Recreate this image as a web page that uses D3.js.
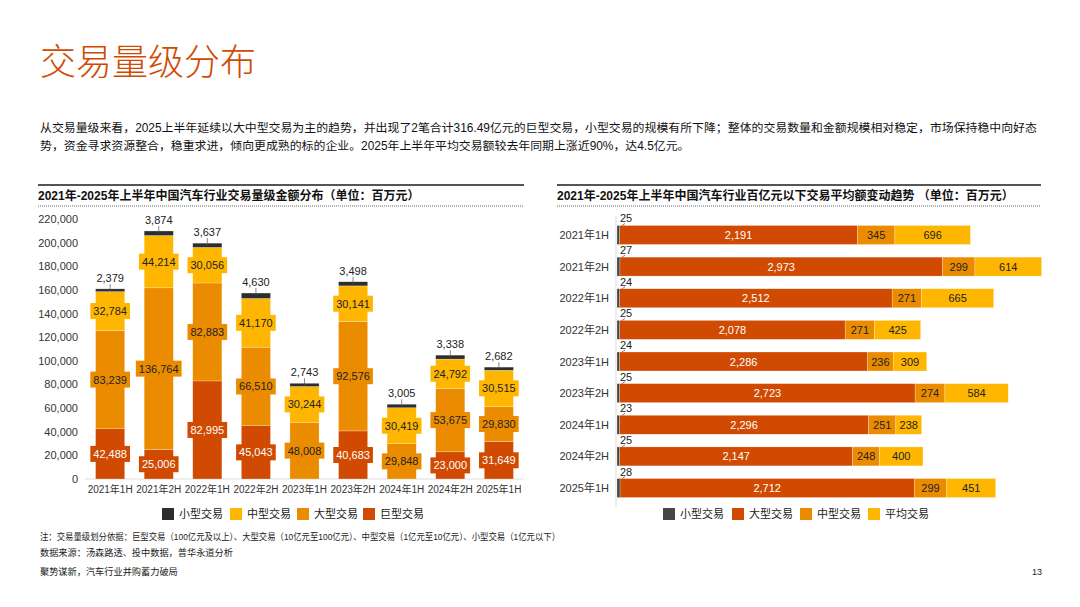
<!DOCTYPE html>
<html>
<head>
<meta charset="utf-8">
<script src="https://cdn.jsdelivr.net/npm/d3@7"></script>
<style>
  body { margin: 0; background: #fff; }
  svg { display: block; font-family: "Liberation Sans", Arial, "Noto Sans CJK SC", sans-serif; }
</style>
</head>
<body>
<svg id="page"></svg>
<script>
// left chart: deal size amounts (百万元)
var periods = ["2021年1H", "2021年2H", "2022年1H", "2022年2H", "2023年1H", "2023年2H", "2024年1H", "2024年2H", "2025年1H"];
var mega = [42488, 25006, 82995, 45043, 0, 40683, 0, 23000, 31649];
var large = [83239, 136764, 82883, 66510, 48008, 92576, 29848, 53675, 29830];
var medium = [32784, 44214, 30056, 41170, 30244, 30141, 30419, 24792, 30515];
var small = [2379, 3874, 3637, 4630, 2743, 3498, 3005, 3338, 2682];
var leftTicks = [0, 20000, 40000, 60000, 80000, 100000, 120000, 140000, 160000, 180000, 200000, 220000];

// right chart: average deal amounts (百万元)
var avgSmall = [25, 27, 24, 25, 24, 25, 23, 25, 28];
var avgLarge = [2191, 2973, 2512, 2078, 2286, 2723, 2296, 2147, 2712];
var avgMedium = [345, 299, 271, 271, 236, 274, 251, 248, 299];
var avgAll = [696, 614, 665, 425, 309, 584, 238, 400, 451];

var RED = "#d04a02", ORANGE = "#eb8c00", YELLOW = "#ffb600", DARK = "#2d2d2d";

var width = 1080, height = 607;
var svg = d3.select("#page").attr("width", width).attr("height", height);
var fmt = d3.format(",");

// page title and intro
svg.append("text").attr("x", 40).attr("y", 75)
    .attr("font-size", 36).attr("font-weight", 300).attr("fill", RED)
    .attr("font-family", "Noto Sans CJK SC")
    .text("交易量级分布");

var intro = [
    "从交易量级来看，2025上半年延续以大中型交易为主的趋势，并出现了2笔合计316.49亿元的巨型交易，小型交易的规模有所下降；整体的交易数量和金额规模相对稳定，市场保持稳中向好态",
    "势，资金寻求资源整合，稳重求进，倾向更成熟的标的企业。2025年上半年平均交易额较去年同期上涨近90%，达4.5亿元。"
];
svg.selectAll(".intro").data(intro).enter().append("text")
    .attr("class", "intro")
    .attr("x", 40).attr("y", function(d, i) { return 132 + i * 18; })
    .attr("font-size", 11.9).attr("fill", "#111")
    .text(function(d) { return d; });

function header(x1, x2, label) {
    svg.append("line").attr("x1", x1).attr("x2", x2).attr("y1", 185).attr("y2", 185)
        .attr("stroke", "#555").attr("stroke-width", 2);
    svg.append("text").attr("x", x1).attr("y", 200)
        .attr("font-size", 12).attr("font-weight", "bold").attr("fill", "#111")
        .text(label);
    svg.append("line").attr("x1", x1).attr("x2", x2).attr("y1", 206).attr("y2", 206)
        .attr("stroke", "#666").attr("stroke-width", 1).attr("stroke-dasharray", "1,1");
}
header(38, 524, "2021年-2025年上半年中国汽车行业交易量级金额分布（单位：百万元）");
header(557, 1041, "2021年-2025年上半年中国汽车行业百亿元以下交易平均额变动趋势 （单位：百万元）");

// ---------- left: stacked column chart ----------
var x = d3.scaleBand().domain(periods).range([81, 528]).paddingInner(0.4).paddingOuter(0.3);
var y = d3.scaleLinear().domain([0, 220000]).range([479, 219]);

var rows = periods.map(function(p, i) {
    return { period: p, mega: mega[i], large: large[i], medium: medium[i], small: small[i] };
});
var keys = ["mega", "large", "medium", "small"];
var colors = { mega: RED, large: ORANGE, medium: YELLOW, small: DARK };
var stacked = d3.stack().keys(keys)(rows);

var left = svg.append("g");

left.selectAll(".ytick").data(leftTicks).enter().append("text")
    .attr("class", "ytick")
    .attr("x", 78).attr("y", function(d) { return y(d) + 4; })
    .attr("text-anchor", "end").attr("font-size", 11).attr("fill", "#333")
    .text(function(d) { return fmt(d); });

left.append("line").attr("x1", 85).attr("x2", 524).attr("y1", y(0)).attr("y2", y(0))
    .attr("stroke", "#ddd");

left.selectAll(".xtick").data(periods).enter().append("text")
    .attr("class", "xtick")
    .attr("x", function(d) { return x(d) + x.bandwidth() / 2; })
    .attr("y", 493)
    .attr("text-anchor", "middle").attr("font-size", 10).attr("fill", "#333")
    .text(function(d) { return d; });

stacked.forEach(function(layer) {
    left.selectAll(".seg-" + layer.key).data(layer).enter().append("rect")
        .attr("x", function(d) { return x(d.data.period); })
        .attr("width", x.bandwidth())
        .attr("y", function(d) { return y(d[1]); })
        .attr("height", function(d) { return Math.max(0, y(d[0]) - y(d[1])); })
        .attr("fill", colors[layer.key])
        .attr("stroke", "#fff").attr("stroke-opacity", 0.5).attr("stroke-width", 0.5);
});

// boxed labels in the middle of each big segment
stacked.forEach(function(layer) {
    if (layer.key === "small") return;
    layer.forEach(function(d) {
        var v = d[1] - d[0];
        if (v <= 0) return;
        var cx = x(d.data.period) + x.bandwidth() / 2;
        var cy = y((d[0] + d[1]) / 2);
        var g = left.append("g");
        var rect = g.append("rect").attr("fill", colors[layer.key]);
        var t = g.append("text").attr("x", cx).attr("y", cy + 4)
            .attr("text-anchor", "middle").attr("font-size", 11)
            .attr("fill", layer.key === "mega" ? "#fff" : "#222")
            .text(fmt(v));
        var w = t.node().getComputedTextLength() + 6;
        rect.attr("x", cx - w / 2).attr("y", cy - 8).attr("width", w).attr("height", 16);
    });
});

// small deal labels above each bar
var smallLayer = stacked[3];
smallLayer.forEach(function(d) {
    var cx = x(d.data.period) + x.bandwidth() / 2;
    var top = y(d[1]);
    left.append("line").attr("x1", cx).attr("x2", cx).attr("y1", top + 2).attr("y2", top - 5)
        .attr("stroke", "#555").attr("stroke-width", 0.7);
    left.append("text").attr("x", cx).attr("y", top - 7)
        .attr("text-anchor", "middle").attr("font-size", 11).attr("fill", "#222")
        .text(fmt(d[1] - d[0]));
});

var leftLegend = [
    { label: "小型交易", color: DARK, x: 162 },
    { label: "中型交易", color: YELLOW, x: 230 },
    { label: "大型交易", color: ORANGE, x: 297 },
    { label: "巨型交易", color: RED, x: 363 }
];

function legend(items) {
    items.forEach(function(it) {
        svg.append("rect").attr("x", it.x).attr("y", 508).attr("width", 12).attr("height", 12)
            .attr("fill", it.color);
        svg.append("text").attr("x", it.x + 17).attr("y", 518)
            .attr("font-size", 11).attr("fill", "#222").text(it.label);
    });
}
legend(leftLegend);

// ---------- right: stacked horizontal bars ----------
var yr = d3.scaleBand().domain(periods).range([216, 507]).paddingInner(0.4).paddingOuter(0.3);
var xr = d3.scaleLinear().domain([0, 4000]).range([617, 1051]);

var rrows = periods.map(function(p, i) {
    return { period: p, small: avgSmall[i], large: avgLarge[i], medium: avgMedium[i], all: avgAll[i] };
});
var rkeys = ["small", "large", "medium", "all"];
var rcolors = { small: "#464646", large: RED, medium: ORANGE, all: YELLOW };
var rstacked = d3.stack().keys(rkeys)(rrows);

var right = svg.append("g");

right.selectAll(".rtick").data(periods).enter().append("text")
    .attr("class", "rtick")
    .attr("x", 609).attr("y", function(d) { return yr(d) + yr.bandwidth() / 2 + 4; })
    .attr("text-anchor", "end").attr("font-size", 11).attr("fill", "#333")
    .text(function(d) { return d; });

right.append("line").attr("x1", 616).attr("x2", 616).attr("y1", 216).attr("y2", 507)
    .attr("stroke", "#ddd");

rstacked.forEach(function(layer) {
    right.selectAll(".rseg-" + layer.key).data(layer).enter().append("rect")
        .attr("x", function(d) { return xr(d[0]); })
        .attr("width", function(d) { return xr(d[1]) - xr(d[0]); })
        .attr("y", function(d) { return yr(d.data.period); })
        .attr("height", yr.bandwidth())
        .attr("fill", rcolors[layer.key])
        .attr("stroke", "#fff").attr("stroke-opacity", 0.5).attr("stroke-width", 0.5);

    if (layer.key === "small") {
        layer.forEach(function(d) {
            var top = yr(d.data.period);
            right.append("line").attr("x1", xr(d[0]) + 1).attr("y1", top + 3)
                .attr("x2", xr(d[0]) + 8).attr("y2", top - 2)
                .attr("stroke", "#444").attr("stroke-width", 0.7);
            right.append("text").attr("x", xr(d[0]) + 3).attr("y", top - 3)
                .attr("font-size", 11).attr("fill", "#222")
                .text(fmt(d[1] - d[0]));
        });
    } else {
        right.selectAll(".rlab-" + layer.key).data(layer).enter().append("text")
            .attr("x", function(d) { return (xr(d[0]) + xr(d[1])) / 2; })
            .attr("y", function(d) { return yr(d.data.period) + yr.bandwidth() / 2 + 4; })
            .attr("text-anchor", "middle").attr("font-size", 11)
            .attr("fill", layer.key === "large" ? "#fff" : "#222")
            .text(function(d) { return fmt(d[1] - d[0]); });
    }
});

legend([
    { label: "小型交易", color: "#464646", x: 663 },
    { label: "大型交易", color: RED, x: 732 },
    { label: "中型交易", color: ORANGE, x: 800 },
    { label: "平均交易", color: YELLOW, x: 868 }
]);

// footnotes
var notes = [
    { text: "注：交易量级划分依据：巨型交易（100亿元及以上）、大型交易（10亿元至100亿元）、中型交易（1亿元至10亿元）、小型交易（1亿元以下）", y: 540, len: 520 },
    { text: "数据来源：汤森路透、投中数据，普华永道分析", y: 556 },
    { text: "聚势谋新，汽车行业并购蓄力破局", y: 575 }
];
svg.selectAll(".note").data(notes).enter().append("text")
    .attr("class", "note")
    .attr("x", 40).attr("y", function(d) { return d.y; })
    .attr("font-size", 9.2).attr("fill", "#222")
    .attr("textLength", function(d) { return d.len || null; })
    .attr("lengthAdjust", "spacingAndGlyphs")
    .text(function(d) { return d.text; });

svg.append("text").attr("x", 1042).attr("y", 575).attr("text-anchor", "end")
    .attr("font-size", 9).attr("fill", "#222").text("13");
</script>
</body>
</html>
